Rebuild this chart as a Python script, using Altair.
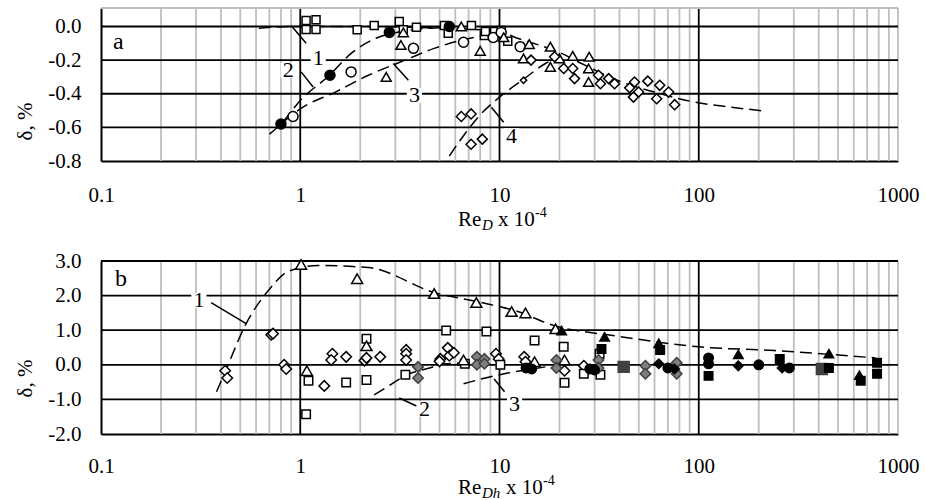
import altair as alt
import pandas as pd

FONT = "Liberation Serif"
GRAY = "#bfbfbf"

# ---------------- axes / grid values ----------------
X_TICKS = [0.1, 1, 10, 100, 1000]
X_MAJOR = [1, 10, 100]
X_MINOR = [m * d for d in (0.1, 1, 10, 100) for m in range(2, 10)] + [1000]

A_Y_TICKS = [-0.8, -0.6, -0.4, -0.2, 0.0]
A_Y_GRID = [-0.6, -0.4, -0.2, 0.0]
B_Y_TICKS = [-2.0, -1.0, 0.0, 1.0, 2.0, 3.0]
B_Y_GRID = [-1.0, 0.0, 1.0, 2.0, 3.0]

# ---------------- panel a data ----------------
A_SQ_X = [1.07, 1.20, 1.07, 1.20, 1.93, 2.35, 3.14, 3.29, 3.83, 5.29, 5.53, 7.23, 8.4, 8.5, 9.45, 10.2, 11.0]
A_SQ_Y = [0.035, 0.04, -0.018, -0.018, -0.02, 0.006, 0.03, -0.02, -0.005, 0.006, -0.04, 0.006, -0.053, -0.03, -0.03, -0.024, -0.088]
A_FC_X = [0.80, 1.41, 2.80, 5.6]
A_FC_Y = [-0.58, -0.29, -0.035, 0.0]
A_OC_X = [0.92, 1.80, 3.70, 6.6, 9.3, 10.2, 12.7]
A_OC_Y = [-0.535, -0.27, -0.13, -0.094, -0.065, -0.035, -0.12]
A_TR_X = [2.70, 3.2, 3.29, 6.43, 8.0, 10.5, 14.1, 18.0, 13.2, 18.0, 23.3, 28.2, 28.0, 28.0, 20.0]
A_TR_Y = [-0.30, -0.11, -0.035, 0.0, -0.145, -0.064, -0.105, -0.12, -0.19, -0.24, -0.175, -0.18, -0.25, -0.33, -0.19]
A_DI_X = [14.4, 18.9, 21.0, 23.3, 23.8, 31.4, 32.1, 35.3, 37.8, 45.0, 47.6, 49.9, 47.0, 55.5, 63.7, 61.5, 70.6, 75.7,
          6.43, 7.2, 7.2, 8.2]
A_DI_Y = [-0.20, -0.18, -0.25, -0.25, -0.31, -0.29, -0.34, -0.31, -0.34, -0.365, -0.33, -0.39, -0.42, -0.325, -0.35, -0.43, -0.39, -0.465,
          -0.535, -0.52, -0.70, -0.67]
A_SD_X = [13.2]
A_SD_Y = [-0.32]

A_C1_X = [0.62, 0.9, 2.0, 5.0, 10.0, 12.0, 20.5, 25.8, 41.0, 60.0, 95.6, 146.0, 220.0]
A_C1_Y = [-0.01, 0.0, 0.0, -0.01, -0.03, -0.065, -0.16, -0.22, -0.33, -0.39, -0.45, -0.48, -0.505]
A_C2_X = [0.70, 0.80, 1.0, 1.4, 1.8, 2.4, 3.2, 4.5, 6.0]
A_C2_Y = [-0.64, -0.58, -0.44, -0.29, -0.16, -0.07, -0.03, -0.01, 0.0]
A_C3_X = [0.82, 1.0, 1.5, 2.2, 3.2, 4.7, 6.5, 10.0]
A_C3_Y = [-0.57, -0.49, -0.39, -0.29, -0.21, -0.13, -0.08, -0.04]
A_C4_X = [5.6, 6.5, 7.8, 10.0, 13.0, 17.0, 20.0]
A_C4_Y = [-0.77, -0.66, -0.54, -0.42, -0.32, -0.22, -0.18]

A_LBL_TEXT = ["1", "2", "3", "4"]
A_LBL_X = [1.23, 0.87, 3.74, 11.5]
A_LBL_Y = [-0.19, -0.26, -0.41, -0.65]
A_LEAD_X1 = [0.90, 1.01, 2.93, 9.1]
A_LEAD_Y1 = [0.006, -0.27, -0.22, -0.48]
A_LEAD_X2 = [1.07, 1.16, 3.49, 10.5]
A_LEAD_Y2 = [-0.10, -0.36, -0.32, -0.57]

# ---------------- panel b data ----------------
B_OT_X = [1.01, 1.93, 4.7, 7.65, 11.5, 13.5, 19.1, 1.08, 2.15, 6.6, 15.0, 21.2]
B_OT_Y = [2.90, 2.49, 2.06, 1.80, 1.54, 1.50, 1.04, -0.17, 0.55, 0.14, 0.09, 0.14]
B_FT_X = [20.5, 33.7, 63.0, 158.0, 450.0, 640.0]
B_FT_Y = [0.99, 0.81, 0.62, 0.30, 0.32, -0.30]
B_OS_X = [1.07, 1.10, 1.70, 2.15, 2.15, 3.37, 5.4, 6.7, 8.6, 10.1, 15.0, 21.0, 21.2, 26.5, 31.8, 32.1]
B_OS_Y = [-1.43, -0.46, -0.51, -0.44, 0.75, -0.29, 0.99, 0.03, 0.96, 0.0, 0.70, 0.52, -0.52, -0.26, 0.32, -0.29]
B_FS_X = [32.5, 64.0, 112.0, 255.0, 450.0, 785.0, 785.0, 650.0]
B_FS_Y = [0.46, 0.43, -0.32, 0.17, -0.09, 0.06, -0.26, -0.46]
B_GS_X = [42.0, 415.0]
B_GS_Y = [-0.06, -0.12]
B_FC_X = [13.6, 14.5, 28.4, 30.0, 70.0, 112.0, 112.0, 200.0, 285.0]
B_FC_Y = [-0.09, -0.12, -0.12, -0.15, -0.09, 0.20, 0.03, 0.0, -0.09]
B_FD_X = [63.0, 75.6, 158.0, 262.0]
B_FD_Y = [0.03, -0.12, -0.03, -0.09]
B_GD_X = [3.9, 3.9, 7.7, 7.7, 8.4, 8.4, 19.3, 19.3, 31.4, 31.4, 54.0, 54.0, 77.5, 77.5]
B_GD_Y = [-0.06, -0.38, 0.23, 0.0, 0.17, 0.03, 0.14, -0.09, 0.14, -0.09, -0.03, -0.26, 0.06, -0.26]
B_OD_X = [0.42, 0.43, 0.715, 0.73, 0.83, 0.85, 1.32, 1.45, 1.43, 1.70, 2.1, 2.15, 2.52, 3.4, 3.4, 3.4,
          5.05, 5.5, 5.6, 5.9, 5.0, 9.6, 9.9, 13.3, 13.5, 21.2, 26.5]
B_OD_Y = [-0.17, -0.38, 0.87, 0.90, 0.0, -0.12, -0.61, 0.32, 0.14, 0.23, 0.12, 0.20, 0.23, 0.43, 0.32, 0.14,
          0.17, 0.49, 0.26, 0.35, 0.10, 0.32, 0.17, 0.23, 0.09, -0.17, -0.03]

B_C1_X = [0.38, 0.42, 0.535, 0.69, 0.87, 1.23, 2.2, 4.7, 8.1, 11.9, 18.9, 37.8, 100.0, 240.0, 770.0]
B_C1_Y = [-0.78, -0.20, 1.19, 2.14, 2.70, 2.87, 2.81, 2.09, 1.80, 1.57, 1.13, 0.84, 0.52, 0.41, 0.20]
B_C2_X = [2.35, 2.8, 3.4, 4.4, 5.3, 7.0]
B_C2_Y = [-0.87, -0.60, -0.30, -0.10, 0.03, 0.05]
B_C3_X = [6.6, 8.5, 11.0, 13.5, 17.0]
B_C3_Y = [-0.55, -0.38, -0.24, -0.15, -0.06]

B_LBL_TEXT = ["1", "2", "3"]
B_LBL_X = [0.31, 4.2, 11.9]
B_LBL_Y = [1.86, -1.28, -1.13]
B_LEAD_X1 = [0.357, 3.14, 9.4]
B_LEAD_Y1 = [1.80, -0.96, -0.41]
B_LEAD_X2 = [0.535, 3.83, 10.6]
B_LEAD_Y2 = [1.19, -1.19, -0.78]


def build_panel(letter, letter_xy, y_domain, y_ticks, y_grid, height, series, curves,
                lbl, lead, sub_text, title_base, label_pad, title_y, top_border):
    xaxis = alt.Axis(values=X_TICKS, title=None, grid=False, ticks=False,
                     domainColor="black", domainWidth=2, labelPadding=label_pad,
                     labelFlush=False, labelOverlap=False,
                     labelFont=FONT, labelFontSize=21, labelColor="black",
                     labelExpr="datum.value < 1 ? format(datum.value, '.1f') : format(datum.value, 'd')")
    yaxis = alt.Axis(values=y_ticks, title="δ, %", grid=False, ticks=False,
                     domainColor="black", domainWidth=2, labelPadding=20,
                     labelFont=FONT, labelFontSize=21, labelColor="black",
                     titleFont=FONT, titleFontSize=21, titleFontWeight="normal", titleColor="black",
                     titleX=-76, titleY=title_y, titleBaseline="middle", titleAngle=270,
                     labelExpr="replace(format(datum.value, '.1f'), '\u2212', '-')")
    X = alt.X("x:Q", scale=alt.Scale(type="log", domain=[0.1, 1000], nice=False), axis=xaxis)
    Y = alt.Y("y:Q", scale=alt.Scale(domain=y_domain, nice=False, zero=False), axis=yaxis)

    layers = []
    layers.append(alt.Chart(pd.DataFrame({"x": X_MINOR})).mark_rule(color=GRAY, strokeWidth=1.8).encode(x=X))
    layers.append(alt.Chart(pd.DataFrame({"x": X_MAJOR})).mark_rule(color="black", strokeWidth=1.8).encode(x=X))
    if top_border:
        layers.append(alt.Chart(pd.DataFrame({"x": [1]})).mark_rule(color=GRAY, strokeWidth=1.8).encode(y=alt.value(0)))
    layers.append(alt.Chart(pd.DataFrame({"y": y_grid})).mark_rule(color="black", strokeWidth=1.8).encode(y=Y))

    rows = []
    for cid, (cx, cy) in enumerate(curves):
        for a, b in zip(cx, cy):
            rows.append({"x": a, "y": b, "c": cid})
    layers.append(alt.Chart(pd.DataFrame(rows)).mark_line(
        color="black", strokeWidth=1.5, strokeDash=[12, 6], interpolate="monotone"
    ).encode(x=X, y=Y, detail="c:N"))

    lx1, ly1, lx2, ly2 = lead
    layers.append(alt.Chart(pd.DataFrame({"x": lx1, "y": ly1, "x2": lx2, "y2": ly2})).mark_rule(
        color="black", strokeWidth=1.5).encode(x=X, y=Y, x2="x2:Q", y2="y2:Q"))

    for (sx, sy, shape, size, fill, stroke) in series:
        layers.append(alt.Chart(pd.DataFrame({"x": sx, "y": sy})).mark_point(
            shape=shape, size=size, filled=True, fill=fill, stroke=stroke, strokeWidth=1.5,
            opacity=1, fillOpacity=1, strokeOpacity=1).encode(x=X, y=Y))

    t, tx, ty = lbl
    ldf = pd.DataFrame({"x": tx, "y": ty, "t": t})
    layers.append(alt.Chart(ldf).mark_point(shape="square", filled=True, color="white", size=230, opacity=1).encode(x=X, y=Y))
    layers.append(alt.Chart(ldf).mark_text(font=FONT, fontSize=22, color="black").encode(x=X, y=Y, text="t:N"))

    layers.append(alt.Chart(pd.DataFrame({"x": [letter_xy[0]], "y": [letter_xy[1]], "t": [letter]})).mark_text(
        font=FONT, fontSize=24, color="black").encode(x=X, y=Y, text="t:N"))

    # composite x-axis title: Re_sub x 10^-4
    one = pd.DataFrame({"k": [0]})
    sub_w = 11 if len(sub_text) == 1 else 19
    x10 = 381 + sub_w + 5
    parts = [("Re", 357, title_base, 21, "normal"),
             (sub_text, 381, title_base + 4, 15, "italic"),
             ("x 10", x10, title_base, 21, "normal"),
             ("-4", x10 + 37, title_base - 9, 14, "normal")]
    for txt, px, py, fs, st in parts:
        layers.append(alt.Chart(one).mark_text(
            text=txt, font=FONT, fontSize=fs, fontStyle=st, align="left", baseline="alphabetic", color="black"
        ).encode(x=alt.value(px), y=alt.value(py)))

    return alt.layer(*layers).properties(width=797, height=height)


series_a = [
    (A_SQ_X, A_SQ_Y, "square", 64, "white", "black"),
    (A_OC_X, A_OC_Y, "circle", 100, "white", "black"),
    (A_TR_X, A_TR_Y, "triangle-up", 100, "white", "black"),
    (A_DI_X, A_DI_Y, "diamond", 100, "white", "black"),
    (A_SD_X, A_SD_Y, "diamond", 40, "white", "black"),
    (A_FC_X, A_FC_Y, "circle", 100, "black", "black"),
]
curves_a = [(A_C1_X, A_C1_Y), (A_C2_X, A_C2_Y), (A_C3_X, A_C3_Y), (A_C4_X, A_C4_Y)]

series_b = [
    (B_OD_X, B_OD_Y, "diamond", 110, "white", "black"),
    (B_OS_X, B_OS_Y, "square", 72, "white", "black"),
    (B_OT_X, B_OT_Y, "triangle-up", 120, "white", "black"),
    (B_GD_X, B_GD_Y, "diamond", 110, "#7f7f7f", "#404040"),
    (B_GS_X, B_GS_Y, "square", 120, "#404040", "#404040"),
    (B_FC_X, B_FC_Y, "circle", 90, "black", "black"),
    (B_FD_X, B_FD_Y, "diamond", 90, "black", "black"),
    (B_FS_X, B_FS_Y, "square", 72, "black", "black"),
    (B_FT_X, B_FT_Y, "triangle-up", 90, "black", "black"),
]
curves_b = [(B_C1_X, B_C1_Y), (B_C2_X, B_C2_Y), (B_C3_X, B_C3_Y)]

panel_a = build_panel("a", (0.122, -0.094), [-0.8, 0.11], A_Y_TICKS, A_Y_GRID, 153, series_a, curves_a,
                      (A_LBL_TEXT, A_LBL_X, A_LBL_Y), (A_LEAD_X1, A_LEAD_Y1, A_LEAD_X2, A_LEAD_Y2),
                      "D", 218, 23, 113, True)
panel_b = build_panel("b", (0.126, 2.49), [-2.0, 3.0], B_Y_TICKS, B_Y_GRID, 173, series_b, curves_b,
                      (B_LBL_TEXT, B_LBL_X, B_LBL_Y), (B_LEAD_X1, B_LEAD_Y1, B_LEAD_X2, B_LEAD_Y2),
                      "Dh", 233, 21, 117, False)

chart = alt.vconcat(panel_a, panel_b, spacing=100, bounds="flush").properties(
    padding={"left": 14, "top": 7, "right": 5, "bottom": 0},
    background="white"
).configure_view(stroke=None)

chart.save("out.html", embed_options={"renderer": "svg", "actions": False})
